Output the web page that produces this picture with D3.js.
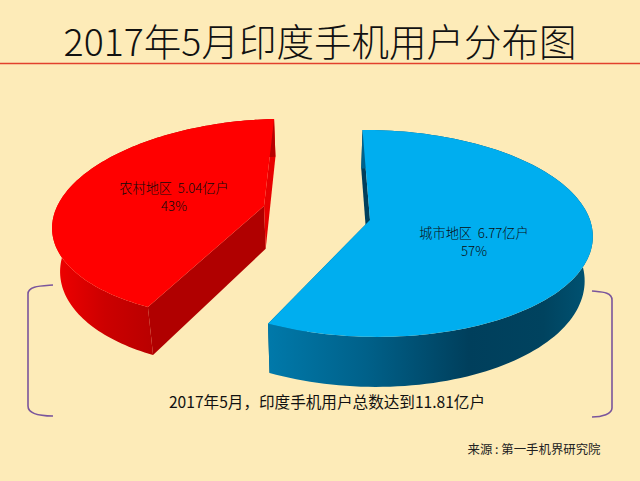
<!DOCTYPE html>
<html><head><meta charset="utf-8">
<script src="https://cdn.jsdelivr.net/npm/d3@7/dist/d3.min.js"></script>
<style>html,body{margin:0;padding:0;background:#FDEBB8}svg{display:block}text{font-family:"Noto Sans CJK SC","Liberation Sans",sans-serif;white-space:pre}</style>
</head><body><svg id="c" width="640" height="481"></svg>
<script>
const categories = ["城市地区", "农村地区"];
const values = [6.77, 5.04];
const percents = ["57%", "43%"];
const unit = "亿户";
const titleText = "2017年5月印度手机用户分布图";
const noteText = "2017年5月，印度手机用户总数达到11.81亿户";
const sourceText = "来源 : 第一手机界研究院";

const W = 640, H = 481;
const svg = d3.select("#c");
svg.append("rect").attr("width", W).attr("height", H).attr("fill", "#FDEBB8");

// perspective projection of a tilted disc
const vx = 320, vy = 220, k = 0.13, a = 101.7, h = 43.5, shrink = 0.97;
const slices = [
  { off: 50,  back: 0,    b: 220, rot: -0.009, tilt: 0, top: "#00AEEF", inner: "#003F5C", cut: "#00577E", side: "gBlue" },
  { off: -57, back: 0.14, b: 213, rot: 0.02,   tilt: 6, top: "#FF0000", inner: "#B00000", cut: "#E80000", side: "gRed" }
];
function project(sl, theta, r, depth) {
  const t = theta + sl.rot;
  const u = r * Math.sin(t);
  const V = r * Math.cos(t) + sl.back;
  const X = sl.off + sl.b * u;
  const s = 1 / (1 + k * V);
  return [vx + X * s * (depth ? shrink : 1), vy + (-a * V + (depth ? h : 0)) * s - sl.tilt * u];
}

const defs = svg.append("defs");
const gb = defs.append("linearGradient").attr("id", "gBlue").attr("gradientUnits", "userSpaceOnUse")
  .attr("x1", 268).attr("x2", 592).attr("y1", 0).attr("y2", 0);
[[0, "#0079AA"], [0.3, "#00618A"], [0.62, "#003F5C"], [0.85, "#00435F"], [1, "#005474"]]
  .forEach(d => gb.append("stop").attr("offset", d[0]).attr("stop-color", d[1]));
const gr = defs.append("linearGradient").attr("id", "gRed").attr("gradientUnits", "userSpaceOnUse")
  .attr("x1", 55).attr("x2", 155).attr("y1", 0).attr("y2", 0);
[[0, "#F00000"], [0.5, "#CC0000"], [1, "#B80000"]]
  .forEach(d => gr.append("stop").attr("offset", d[0]).attr("stop-color", d[1]));

const pie = d3.pie().sort(null).value(d => d)(values);
const line = d3.line();
const poly = pts => line(pts) + "Z";

pie.forEach((p, i) => {
  const sl = slices[i];
  const thetas = d3.range(0, 121).map(j => p.startAngle + (p.endAngle - p.startAngle) * j / 120);
  const g = svg.append("g");
  const startT = p.startAngle, endT = p.endAngle;
  const centre = 0 - sl.rot;
  g.append("path").attr("fill", sl.inner).attr("d", poly([
    project(sl, startT, 1, false), project(sl, centre, 0, false),
    project(sl, centre, 0, true), project(sl, startT, 1, true)]));
  g.append("path").attr("fill", sl.cut).attr("d", poly([
    project(sl, endT, 1, false), project(sl, centre, 0, false),
    project(sl, centre, 0, true), project(sl, endT, 1, true)]));
  g.append("path").attr("fill", `url(#${sl.side})`).attr("d", poly(
    thetas.map(t => project(sl, t, 1, false)).concat(thetas.slice().reverse().map(t => project(sl, t, 1, true)))));
  g.append("path").attr("fill", sl.top).attr("d", poly(
    [project(sl, centre, 0, false)].concat(thetas.map(t => project(sl, t, 1, false)))));
});

// value labels
const labelPos = [[474, 233, 251], [174, 188, 206]];
categories.forEach((c, i) => {
  const t = svg.append("text").attr("text-anchor", "middle").attr("font-size", 13.2).attr("fill", "#0c0c0c").attr("font-weight", 300);
  t.append("tspan").attr("x", labelPos[i][0]).attr("y", labelPos[i][1] + 4.5)
    .text(`${c}  ${values[i].toFixed(2)}${unit}`);
  t.append("tspan").attr("x", labelPos[i][0]).attr("y", labelPos[i][2] + 4.5).text(percents[i]);
});

// title and rule
svg.append("text").attr("x", 320).attr("y", 56).attr("text-anchor", "middle")
  .attr("font-size", 37.5).attr("font-weight", 300).attr("fill", "#111").text(titleText);
svg.append("line").attr("x1", 0).attr("x2", 640).attr("y1", 63.5).attr("y2", 63.5)
  .attr("stroke", "#E2402C").attr("stroke-width", 1.5);

// brackets
const purple = "#7A559C";
svg.append("path").attr("fill", "none").attr("stroke", purple).attr("stroke-width", 1.6)
  .attr("d", "M53,285 C40,286 28,286 28,294 L28,406 C28,414 40,416 53,416");
svg.append("path").attr("fill", "none").attr("stroke", purple).attr("stroke-width", 1.6)
  .attr("d", "M592,291 C602,292 612,292 612,300 L612,408 C612,414 602,417 592,417");

svg.append("text").attr("x", 327).attr("y", 408).attr("text-anchor", "middle")
  .attr("font-size", 15.6).attr("fill", "#111").text(noteText);
svg.append("text").attr("x", 534).attr("y", 454).attr("text-anchor", "middle")
  .attr("font-size", 12.4).attr("fill", "#222").text(sourceText);
</script></body></html>
